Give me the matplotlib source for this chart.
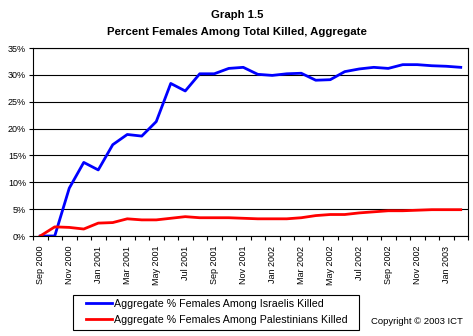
import numpy as np
import matplotlib.pyplot as plt
from matplotlib.patches import Rectangle

months = ["Sep 2000", "Oct 2000", "Nov 2000", "Dec 2000", "Jan 2001", "Feb 2001",
          "Mar 2001", "Apr 2001", "May 2001", "Jun 2001", "Jul 2001", "Aug 2001",
          "Sep 2001", "Oct 2001", "Nov 2001", "Dec 2001", "Jan 2002", "Feb 2002",
          "Mar 2002", "Apr 2002", "May 2002", "Jun 2002", "Jul 2002", "Aug 2002",
          "Sep 2002", "Oct 2002", "Nov 2002", "Dec 2002", "Jan 2003", "Feb 2003"]

israelis = [0.0, 0.0, 8.9, 13.7, 12.3, 17.0, 18.9, 18.6, 21.3, 28.4, 27.0, 30.2,
            30.2, 31.2, 31.4, 30.1, 29.9, 30.2, 30.3, 29.0, 29.1, 30.6, 31.1, 31.4,
            31.2, 31.9, 31.9, 31.7, 31.6, 31.4]

palestinians = [0.0, 1.7, 1.6, 1.3, 2.4, 2.5, 3.2, 3.0, 3.0, 3.3, 3.6, 3.4,
                3.4, 3.4, 3.3, 3.2, 3.2, 3.2, 3.4, 3.8, 4.0, 4.0, 4.3, 4.5,
                4.7, 4.7, 4.8, 4.9, 4.9, 4.9]

yticks = [0, 5, 10, 15, 20, 25, 30, 35]

plt.rcParams['font.family'] = ['Liberation Sans', 'DejaVu Sans']

W, H = 473, 336
fig = plt.figure(figsize=(W / 100, H / 100), dpi=100)
ax = fig.add_axes([33 / W, 1 - 236 / H, 435 / W, 188 / H])

x = np.arange(len(months))
l1, = ax.plot(x, israelis, color="#0000ff", lw=2.0,
              label="Aggregate % Females Among Israelis Killed")
l2, = ax.plot(x, palestinians, color="#ff0000", lw=2.0,
              label="Aggregate % Females Among Palestinians Killed")

ax.set_xlim(-0.5, len(months) - 0.5)
ax.set_ylim(0, 35)
ax.set_yticks(yticks)
ax.set_yticklabels(["{}%".format(v) for v in yticks], fontsize=6.5)
ax.yaxis.grid(True, color="black", lw=0.8)
ax.set_axisbelow(True)
ax.tick_params(axis="y", length=3, width=0.8, pad=2)

# labels every other month at category centers, ticks on boundaries
ax.set_xticks(x[::2])
ax.set_xticklabels(months[::2], rotation=90, fontsize=6.5)
ax.set_xticks(np.arange(len(months) + 1) - 0.5, minor=True)
ax.tick_params(axis="x", which="major", length=0, pad=7)
ax.tick_params(axis="x", which="minor", length=3, width=0.8)

for s in ax.spines.values():
    s.set_linewidth(0.8)
    s.set_color("black")

fig.text(237 / W, 1 - 15 / H, "Graph 1.5", ha="center", va="center",
         fontsize=8.2, fontweight="bold")
fig.text(237 / W, 1 - 32 / H, "Percent Females Among Total Killed, Aggregate",
         ha="center", va="center", fontsize=8.2, fontweight="bold")

# legend box
fig.patches.append(Rectangle((73 / W, 1 - 330 / H), 286 / W, 35 / H,
                             transform=fig.transFigure, fill=False,
                             edgecolor="black", lw=0.8))
fig.legend(handles=[l1, l2], loc="center left",
           bbox_to_anchor=(86 / W, 1 - 312 / H), fontsize=7.7, frameon=False,
           handlelength=2.4, handletextpad=0.25, borderpad=0, borderaxespad=0,
           labelspacing=0.55)

fig.text(463 / W, 1 - 321 / H, "Copyright \u00a9 2003 ICT", ha="right",
         va="center", fontsize=6.8)

fig.savefig("out.png", dpi=100)
